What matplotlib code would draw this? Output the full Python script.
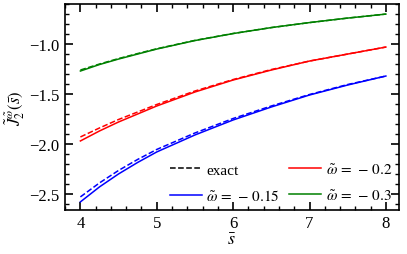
import matplotlib

matplotlib.use("Agg")
import matplotlib.pyplot as plt
from matplotlib.ticker import MultipleLocator

plt.rcParams["font.family"] = "serif"
plt.rcParams["font.serif"] = ["Liberation Serif", "DejaVu Serif"]
plt.rcParams["mathtext.fontset"] = "stix"

s = [4.0, 4.25, 4.5, 4.75, 5.0, 5.5, 6.0, 6.5, 7.0, 7.5, 8.0]

# approximation (solid) and exact (dashed) for each omega
j_015 = [-2.58, -2.43, -2.30, -2.185, -2.08, -1.91, -1.76, -1.63, -1.51, -1.41, -1.32]
j_015_exact = [-2.53, -2.39, -2.265, -2.155, -2.055, -1.89, -1.745, -1.62, -1.505, -1.405, -1.32]
j_02 = [-1.97, -1.87, -1.78, -1.70, -1.62, -1.48, -1.36, -1.26, -1.17, -1.10, -1.03]
j_02_exact = [-1.93, -1.84, -1.755, -1.68, -1.605, -1.47, -1.355, -1.255, -1.17, -1.10, -1.03]
j_03 = [-1.27, -1.205, -1.15, -1.10, -1.05, -0.965, -0.895, -0.835, -0.785, -0.74, -0.70]
j_03_exact = [-1.26, -1.20, -1.145, -1.095, -1.047, -0.963, -0.894, -0.835, -0.785, -0.74, -0.70]

fig = plt.figure(figsize=(4.07, 2.55), dpi=100)
ax = fig.add_axes([0.160, 0.173, 0.820, 0.807])

lw = 1.1
ax.plot(s, j_015_exact, color="blue", ls="--", lw=lw)
ax.plot(s, j_02_exact, color="red", ls="--", lw=lw)
ax.plot(s, j_03_exact, color="green", ls="--", lw=lw)
ax.plot(s, j_015, color="blue", lw=lw)
ax.plot(s, j_02, color="red", lw=lw)
ax.plot(s, j_03, color="green", lw=lw)

h_exact, = ax.plot([], [], color="black", ls="--", lw=lw, label="exact")
h1, = ax.plot([], [], color="blue", lw=lw, label=r"$\tilde{\omega}\,=\,-\,0.15$")
h2, = ax.plot([], [], color="red", lw=lw, label=r"$\tilde{\omega}\,=\,-\,0.2$")
h3, = ax.plot([], [], color="green", lw=lw, label=r"$\tilde{\omega}\,=\,-\,0.3$")
ax.legend(handles=[h_exact, h1, h2, h3], ncol=2, loc="lower right",
          frameon=False, fontsize=11, handlelength=2.1, handletextpad=0.3,
          columnspacing=0.6, labelspacing=0.75, borderaxespad=0.05)

ax.set_xlim(3.8, 8.17)
ax.set_ylim(-2.66, -0.60)
ax.xaxis.set_major_locator(MultipleLocator(1))
ax.xaxis.set_minor_locator(MultipleLocator(0.2))
ax.yaxis.set_major_locator(MultipleLocator(0.5))
ax.yaxis.set_minor_locator(MultipleLocator(0.1))
ax.tick_params(which="both", direction="in", top=True, right=True, labelsize=12)
ax.tick_params(which="major", length=6, width=1.2, pad=4)
ax.tick_params(which="minor", length=3, width=1.0)
for sp in ax.spines.values():
    sp.set_linewidth(1.2)

ax.set_xlabel(r"$\bar{s}$", fontsize=13, labelpad=0)
ax.set_ylabel(r"$\tilde{J}_2^{\tilde{\omega}}(\bar{s})$", fontsize=12)
ax.yaxis.set_label_coords(-0.115, 0.5)

fig.savefig("out.png", dpi=100)
